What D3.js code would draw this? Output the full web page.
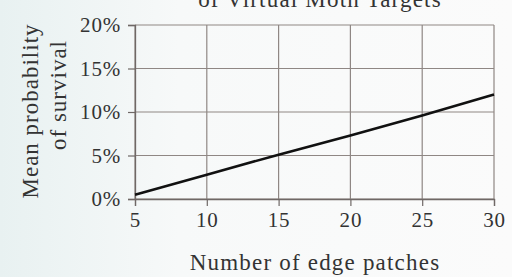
<!DOCTYPE html>
<html>
<head>
<meta charset="utf-8">
<script src="https://cdn.jsdelivr.net/npm/d3@7"></script>
<style>
  body { margin: 0; background: #f7f9f9; }
  text { font-family: 'Liberation Serif', 'DejaVu Serif', serif; fill: #333; }
</style>
</head>
<body>
<div id="chart"></div>
<script>
const margin = { top: 25, right: 18, bottom: 78, left: 135 }
const width = 512 - margin.left - margin.right
const height = 277 - margin.top - margin.bottom

const patches = [5, 10, 15, 20, 25, 30]
const survival = [0.5, 2.8, 5.1, 7.3, 9.6, 12.0]
const xTicks = [5, 10, 15, 20, 25, 30]
const yTicks = [0, 5, 10, 15, 20]

const data = patches.map((p, i) => ({ x: p, y: survival[i] }))

const xScale = d3.scaleLinear()
  .domain([5, 30])
  .range([0, width])

const yScale = d3.scaleLinear()
  .domain([0, 20])
  .range([height, 0])

const svg = d3.select('#chart')
  .append('svg')
  .attr('width', 512)
  .attr('height', 277)

const bg = svg.append('defs').append('linearGradient')
  .attr('id', 'bg')
  .attr('x1', 0).attr('x2', 1).attr('y1', 0).attr('y2', 0)
bg.append('stop').attr('offset', 0).attr('stop-color', '#e8f1f1')
bg.append('stop').attr('offset', 0.35).attr('stop-color', '#f7f9f9')
bg.append('stop').attr('offset', 1).attr('stop-color', '#fbfbfb')

svg.append('rect')
  .attr('width', 512)
  .attr('height', 277)
  .attr('fill', 'url(#bg)')

const g = svg.append('g')
  .attr('transform', `translate(${margin.left}, ${margin.top})`)

// grid
g.append('g')
  .selectAll('line')
  .data(yTicks)
  .join('line')
  .attr('x1', 0)
  .attr('x2', width)
  .attr('y1', (d) => yScale(d))
  .attr('y2', (d) => yScale(d))
  .attr('stroke', '#8f8784')
  .attr('stroke-width', 1.2)

g.append('g')
  .selectAll('line')
  .data(xTicks)
  .join('line')
  .attr('x1', (d) => xScale(d))
  .attr('x2', (d) => xScale(d))
  .attr('y1', 0)
  .attr('y2', height)
  .attr('stroke', '#8f8784')
  .attr('stroke-width', 1.2)

// axes
const xAxis = g.append('g')
  .attr('transform', `translate(0, ${height})`)
  .call(d3.axisBottom(xScale).tickValues(xTicks).tickSize(7).tickPadding(6))

const yAxis = g.append('g')
  .call(d3.axisLeft(yScale).tickValues(yTicks).tickSize(7).tickPadding(7)
    .tickFormat((d) => d + '%'))

for (const ax of [xAxis, yAxis]) {
  ax.select('.domain').attr('stroke', '#6f6866').attr('stroke-width', 1.3)
  ax.selectAll('.tick line').attr('stroke', '#6f6866').attr('stroke-width', 1.2)
  ax.selectAll('.tick text')
    .style('font-family', "'Liberation Serif', serif")
    .style('font-size', '21px')
    .style('letter-spacing', '0.8px')
    .attr('fill', '#333')
}

// line
const line = d3.line()
  .x((d) => xScale(d.x))
  .y((d) => yScale(d.y))

g.append('path')
  .datum(data)
  .attr('d', line)
  .attr('fill', 'none')
  .attr('stroke', '#111')
  .attr('stroke-width', 2.6)

// labels
svg.append('text')
  .attr('x', 315)
  .attr('y', 270)
  .attr('text-anchor', 'middle')
  .style('font-size', '23px')
  .style('letter-spacing', '1.2px')
  .text('Number of edge patches')

svg.append('text')
  .attr('transform', 'translate(38, 111) rotate(-90)')
  .attr('text-anchor', 'middle')
  .style('font-size', '23px')
  .style('letter-spacing', '1px')
  .text('Mean probability')

svg.append('text')
  .attr('transform', 'translate(66, 95) rotate(-90)')
  .attr('text-anchor', 'middle')
  .style('font-size', '23px')
  .style('letter-spacing', '1px')
  .text('of survival')

svg.append('text')
  .attr('x', 320)
  .attr('y', 7)
  .attr('text-anchor', 'middle')
  .style('font-size', '23px')
  .style('letter-spacing', '1.2px')
  .text('of Virtual Moth Targets')
</script>
</body>
</html>
